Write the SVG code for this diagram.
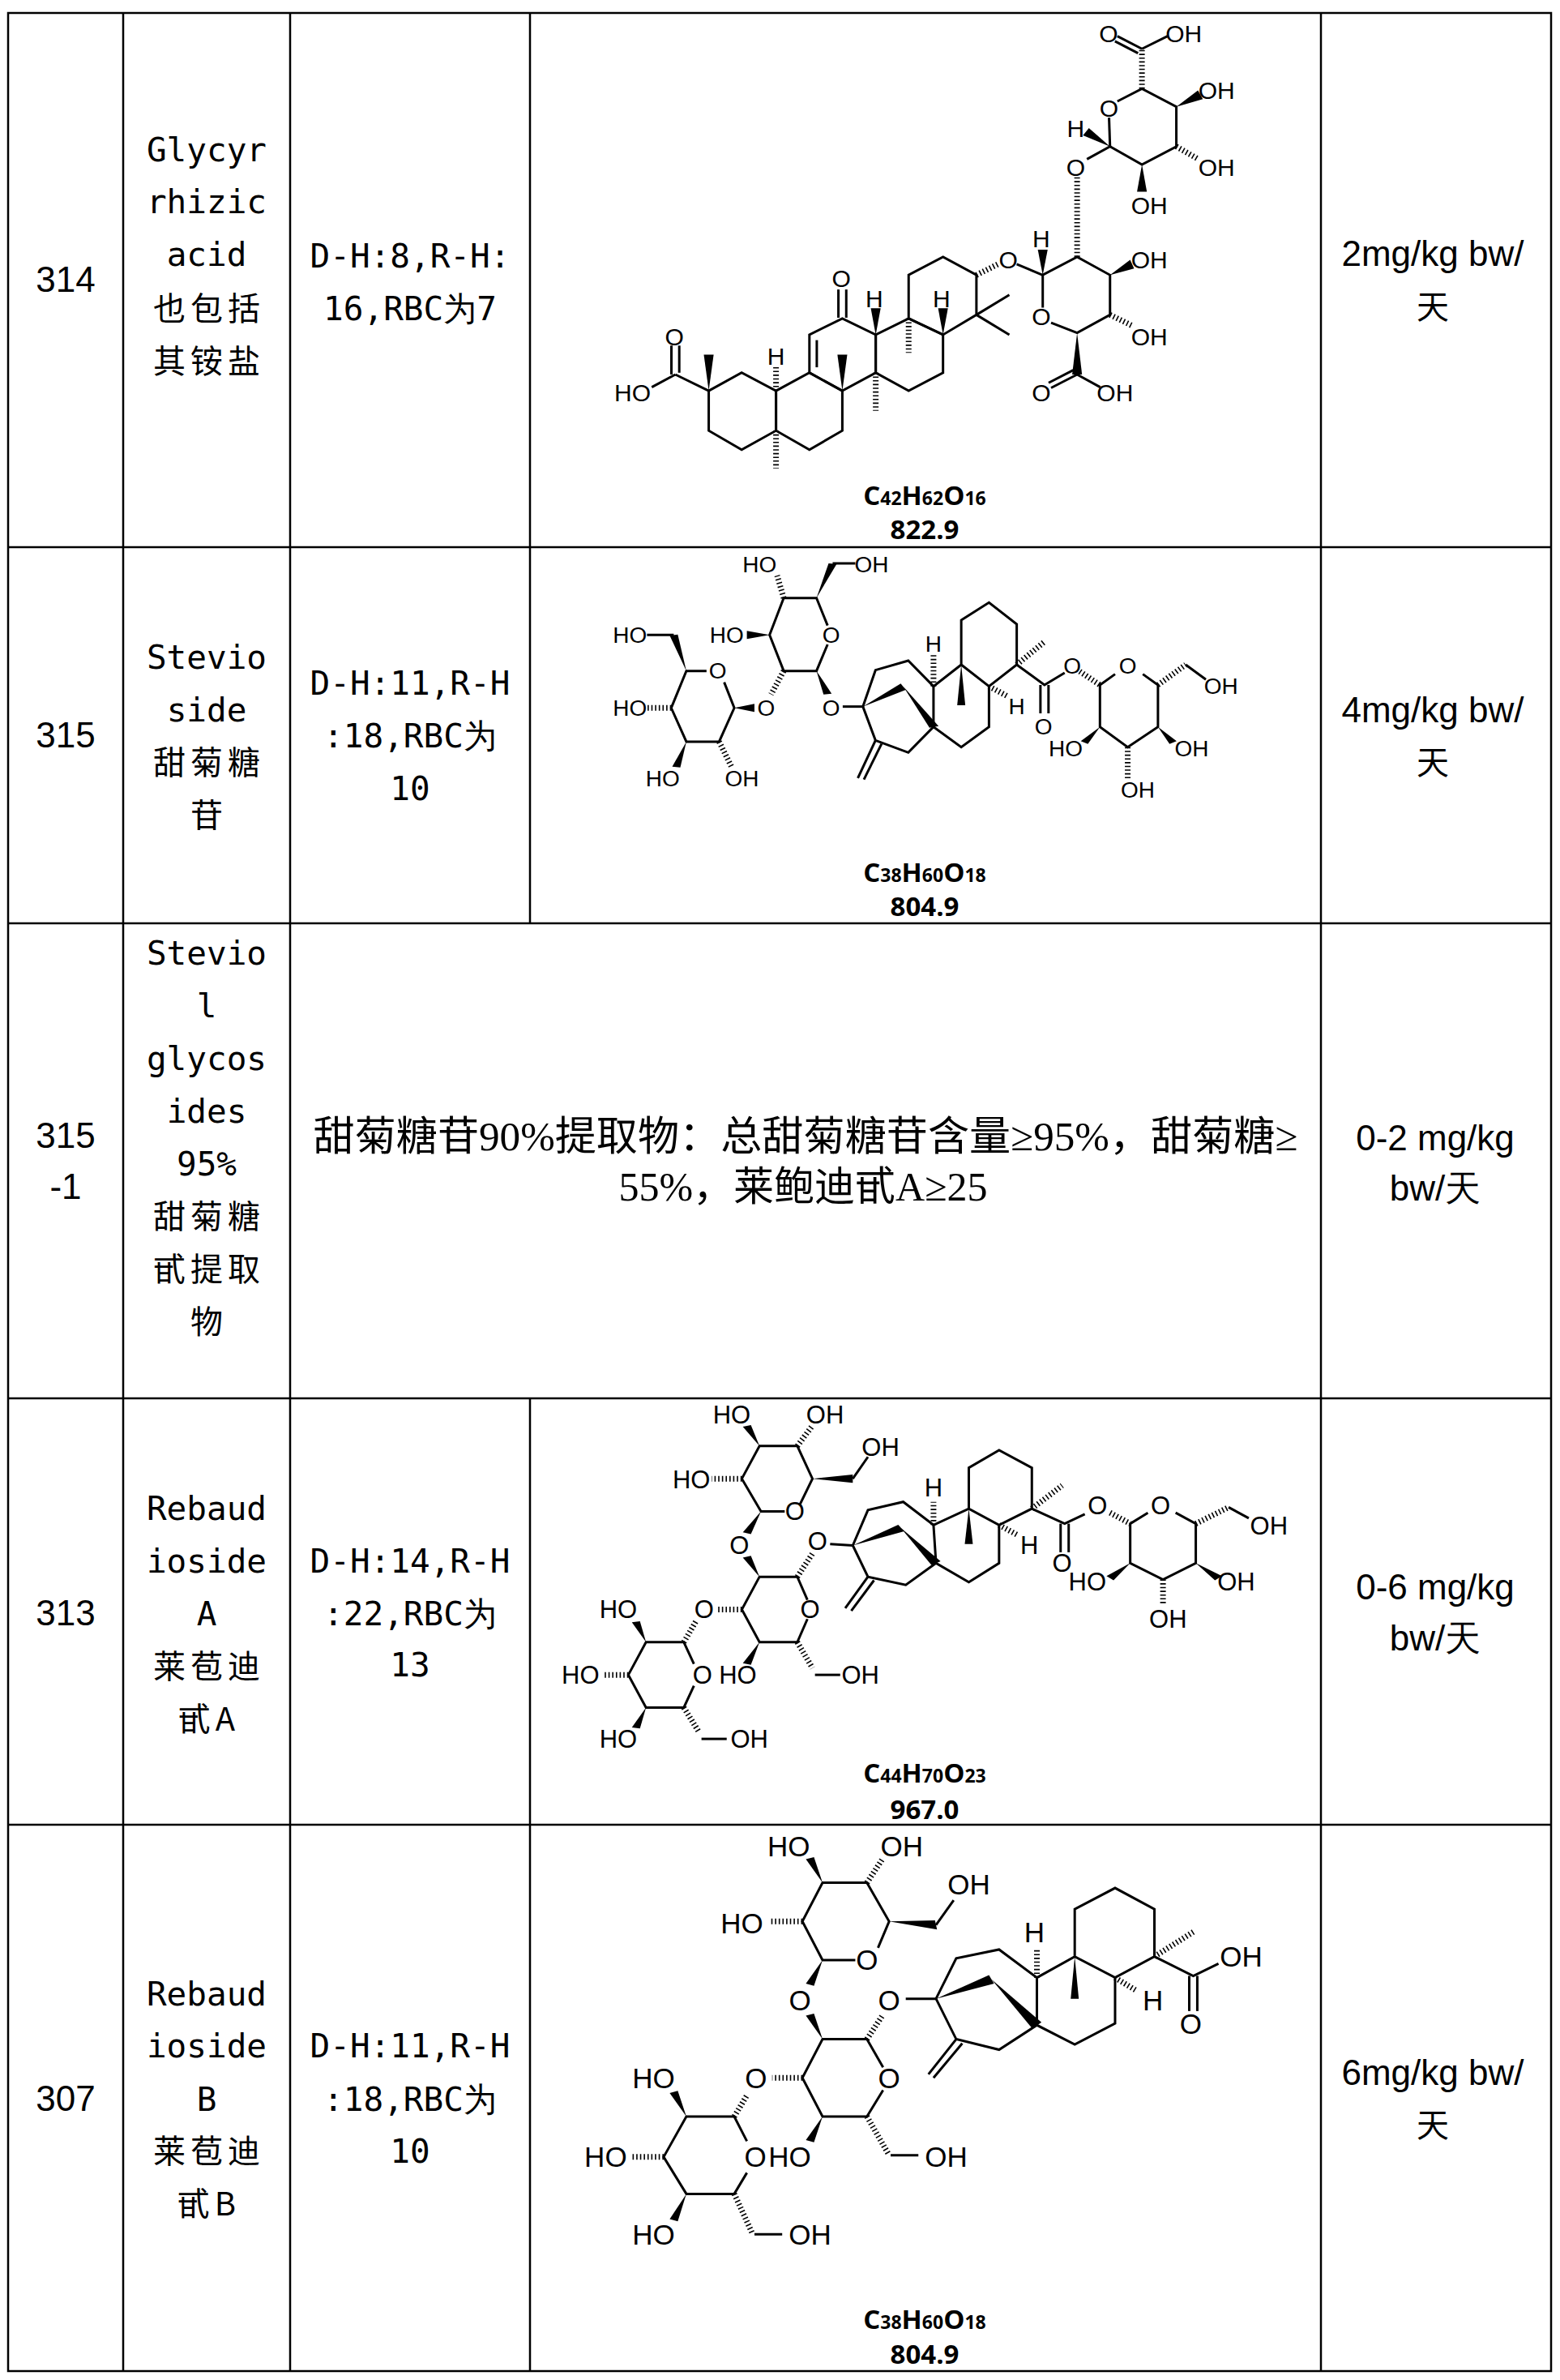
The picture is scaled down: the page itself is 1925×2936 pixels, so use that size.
<svg xmlns="http://www.w3.org/2000/svg" width="1925" height="2936" viewBox="0 0 1925 2936">
<style>
.g{stroke:#000;stroke-width:2.5;fill:none}
.b line,.b polyline,.b polygon.r{fill:none;stroke:#000;stroke-width:3;vector-effect:non-scaling-stroke}
.b polygon{fill:#000;stroke:none}
.b line.h{stroke-width:7;stroke-dasharray:1.6 3}
.b text{font-family:"Liberation Sans",Arial,sans-serif;text-anchor:middle;dominant-baseline:central}
.f{font-family:"Open Sans","Liberation Sans",sans-serif;font-weight:bold;text-anchor:middle;font-size:33px}
.f tspan.s{font-size:23px}
.num{font-family:"Liberation Sans",Arial,sans-serif;font-size:44px;text-anchor:middle}
.mono{font-family:"DejaVu Sans Mono","Liberation Mono",monospace;font-size:41px;text-anchor:middle}
.cjk{font-family:"Noto Sans CJK SC",sans-serif;font-size:40px;text-anchor:middle;letter-spacing:6px}
.ser{font-family:"Liberation Serif","Noto Sans CJK SC",serif;font-size:50px;text-anchor:middle}
</style>
<g id="grid" class="g">
<rect x="10" y="16" width="1904" height="2909"/>
<line x1="152" y1="16" x2="152" y2="2925"/>
<line x1="358" y1="16" x2="358" y2="2925"/>
<line x1="1630" y1="16" x2="1630" y2="2925"/>
<line x1="654" y1="16" x2="654" y2="1139"/>
<line x1="654" y1="1725" x2="654" y2="2925"/>
<line x1="10" y1="675" x2="1914" y2="675"/>
<line x1="10" y1="1139" x2="1914" y2="1139"/>
<line x1="10" y1="1725" x2="1914" y2="1725"/>
<line x1="10" y1="2251" x2="1914" y2="2251"/>
</g>
<g id="row314">
<text class="num" x="81" y="360">314</text>
<text class="mono" x="255" y="199">Glycyr</text>
<text class="mono" x="255" y="263">rhizic</text>
<text class="mono" x="255" y="328">acid</text>
<text class="cjk" x="258" y="395">也包括</text>
<text class="cjk" x="258" y="460">其铵盐</text>
<text class="mono" x="506" y="330">D-H:8,R-H:</text>
<text class="mono" x="506" y="395">16,RBC为7</text>
<text class="num" x="1768" y="328">2mg/kg bw/</text>
<text class="cjk" x="1771" y="393">天</text>
</g>
<g id="row315">
<text class="num" x="81" y="922">315</text>
<text class="mono" x="255" y="825">Stevio</text>
<text class="mono" x="255" y="890">side</text>
<text class="cjk" x="258" y="955">甜菊糖</text>
<text class="cjk" x="258" y="1020">苷</text>
<text class="mono" x="506" y="857">D-H:11,R-H</text>
<text class="mono" x="506" y="922">:18,RBC为</text>
<text class="mono" x="506" y="987">10</text>
<text class="num" x="1768" y="891">4mg/kg bw/</text>
<text class="cjk" x="1771" y="955">天</text>
</g>
<g id="row315-1">
<text class="num" x="81" y="1416">315</text>
<text class="num" x="81" y="1479">-1</text>
<text class="mono" x="255" y="1190">Stevio</text>
<text class="mono" x="255" y="1255">l</text>
<text class="mono" x="255" y="1320">glycos</text>
<text class="mono" x="255" y="1385">ides</text>
<text class="mono" x="255" y="1450">95%</text>
<text class="cjk" x="258" y="1515">甜菊糖</text>
<text class="cjk" x="258" y="1580">甙提取</text>
<text class="cjk" x="258" y="1645">物</text>
<text class="ser" x="994" y="1419" textLength="1215" lengthAdjust="spacingAndGlyphs">甜菊糖苷90%提取物：总甜菊糖苷含量≥95%，甜菊糖≥</text>
<text class="ser" x="991" y="1481">55%，莱鲍迪甙A≥25</text>
<text class="num" x="1771" y="1419">0-2 mg/kg</text>
<text class="num" x="1771" y="1481">bw/天</text>
</g>
<g id="row313">
<text class="num" x="81" y="2005">313</text>
<text class="mono" x="255" y="1875">Rebaud</text>
<text class="mono" x="255" y="1940">ioside</text>
<text class="mono" x="255" y="2005">A</text>
<text class="cjk" x="258" y="2070">莱苞迪</text>
<text class="cjk" x="258" y="2135">甙A</text>
<text class="mono" x="506" y="1940">D-H:14,R-H</text>
<text class="mono" x="506" y="2005">:22,RBC为</text>
<text class="mono" x="506" y="2068">13</text>
<text class="num" x="1771" y="1973">0-6 mg/kg</text>
<text class="num" x="1771" y="2036">bw/天</text>
</g>
<g id="row307">
<text class="num" x="81" y="2604">307</text>
<text class="mono" x="255" y="2474">Rebaud</text>
<text class="mono" x="255" y="2538">ioside</text>
<text class="mono" x="255" y="2604">B</text>
<text class="cjk" x="258" y="2668">莱苞迪</text>
<text class="cjk" x="258" y="2733">甙B</text>
<text class="mono" x="506" y="2538">D-H:11,R-H</text>
<text class="mono" x="506" y="2604">:18,RBC为</text>
<text class="mono" x="506" y="2668">10</text>
<text class="num" x="1768" y="2572">6mg/kg bw/</text>
<text class="cjk" x="1771" y="2636">天</text>
</g>

<g id="mol314" class="b" transform="translate(700,0) scale(0.6061,0.4464)" style="font-size:30px">
<polygon class="r" points="288,1080 355,1030 425,1080 425,1190 355,1243 288,1190"/>
<polygon class="r" points="425,1080 493,1030 560,1080 560,1190 493,1243 425,1190"/>
<polygon class="r" points="493,1030 493,925 560,880 628,925 628,1030 560,1080"/>
<polygon class="r" points="628,1030 628,925 695,880 765,925 765,1030 695,1080"/>
<polygon class="r" points="695,880 695,760 765,710 833,760 833,870 765,925"/>
<line x1="508" y1="1015" x2="508" y2="940"/>
<line x1="833" y1="870" x2="900" y2="815"/><line x1="833" y1="870" x2="900" y2="925"/>
<line class="h" x1="833" y1="760" x2="880" y2="728"/>
<line x1="552" y1="878" x2="552" y2="800"/><line x1="568" y1="878" x2="568" y2="800"/>
<line x1="288" y1="1080" x2="220" y2="1035"/><line x1="212" y1="1035" x2="212" y2="955"/><line x1="228" y1="1030" x2="228" y2="955"/><line x1="220" y1="1035" x2="172" y2="1070"/>
<polygon points="288,1080 278,980 298,980"/>
<line class="h" x1="425" y1="1080" x2="425" y2="1012"/>
<polygon points="560,1080 550,980 570,980"/>
<line class="h" x1="628" y1="1030" x2="628" y2="1135"/>
<line class="h" x1="425" y1="1190" x2="425" y2="1295"/>
<line class="h" x1="695" y1="880" x2="695" y2="975"/>
<polygon points="628,925 618,852 638,852"/>
<polygon points="765,925 755,852 775,852"/>
<line x1="915" y1="730" x2="968" y2="760"/>
<polyline points="968,850 968,760 1038,710 1105,760 1105,870 1038,920 985,892"/>
<polygon points="968,760 958,690 978,690"/>
<polygon points="1105,760 1146,718 1154,742"/>
<line class="h" x1="1105" y1="870" x2="1150" y2="900"/>
<polygon points="1038,920 1028,1035 1048,1035"/>
<line x1="1038" y1="1035" x2="985" y2="1072"/><line x1="1030" y1="1023" x2="980" y2="1058"/><line x1="1038" y1="1035" x2="1085" y2="1070"/>
<line class="h" x1="1038" y1="710" x2="1038" y2="485"/>
<polyline points="1058,440 1105,405 1170,455 1240,405 1240,295 1170,245 1120,280"/>
<line x1="1105" y1="405" x2="1103" y2="325"/>
<polygon points="1105,405 1050,374 1062,354"/>
<polygon points="1240,295 1284,250 1294,274"/>
<line class="h" x1="1240" y1="405" x2="1285" y2="440"/>
<polygon points="1170,455 1160,530 1180,530"/>
<line class="h" x1="1170" y1="245" x2="1170" y2="135"/>
<line x1="1170" y1="135" x2="1120" y2="100"/><line x1="1162" y1="147" x2="1115" y2="114"/><line x1="1170" y1="135" x2="1222" y2="100"/>
<text transform="translate(1102,92) scale(1.65,2.24)">O</text>
<text transform="translate(1255,92) scale(1.65,2.24)">OH</text>
<text transform="translate(1322,250) scale(1.65,2.24)">OH</text>
<text transform="translate(1103,300) scale(1.65,2.24)">O</text>
<text transform="translate(1035,355) scale(1.65,2.24)">H</text>
<text transform="translate(1035,462) scale(1.65,2.24)">O</text>
<text transform="translate(1322,462) scale(1.65,2.24)">OH</text>
<text transform="translate(1185,568) scale(1.65,2.24)">OH</text>
<text transform="translate(965,660) scale(1.65,2.24)">H</text>
<text transform="translate(898,718) scale(1.65,2.24)">O</text>
<text transform="translate(1185,718) scale(1.65,2.24)">OH</text>
<text transform="translate(558,770) scale(1.65,2.24)">O</text>
<text transform="translate(625,825) scale(1.65,2.24)">H</text>
<text transform="translate(762,825) scale(1.65,2.24)">H</text>
<text transform="translate(965,875) scale(1.65,2.24)">O</text>
<text transform="translate(1185,930) scale(1.65,2.24)">OH</text>
<text transform="translate(218,930) scale(1.65,2.24)">O</text>
<text transform="translate(425,985) scale(1.65,2.24)">H</text>
<text transform="translate(133,1085) scale(1.65,2.24)">HO</text>
<text transform="translate(965,1085) scale(1.65,2.24)">O</text>
<text transform="translate(1115,1085) scale(1.65,2.24)">OH</text>
</g>
<text class="f" x="1141" y="623">C<tspan class="s">42</tspan>H<tspan class="s">62</tspan>O<tspan class="s">16</tspan></text>
<text class="f" x="1141" y="665">822.9</text>

<g id="mol315" class="b" transform="translate(654,675) scale(0.6224,0.3333)" style="font-size:28px">
<polyline points="590,290 568,188 503,188 475,325 503,458 568,458 590,360"/>
<line class="h" x1="503" y1="188" x2="490" y2="105"/>
<polygon points="568,188 592,60 608,62"/><line x1="600" y1="60" x2="645" y2="60"/>
<polygon points="475,325 430,310 430,340"/>
<polygon points="568,458 582,545 598,542"/>
<line class="h" x1="503" y1="458" x2="478" y2="545"/>
<polyline points="350,458 310,458 280,595 310,720 375,720 405,595 385,500"/>
<polygon points="310,458 277,327 293,323"/><line x1="285" y1="325" x2="232" y2="325"/>
<line class="h" x1="280" y1="595" x2="232" y2="595"/>
<polygon points="405,595 445,580 445,610"/>
<polygon points="310,720 282,812 298,815"/>
<line class="h" x1="375" y1="720" x2="400" y2="815"/>
<line x1="620" y1="590" x2="660" y2="590"/>
<polyline points="660,590 685,455 750,420 800,515 855,435 910,515 965,435 965,285 910,205 855,270 855,435"/>
<polyline points="910,515 910,665 855,740 800,665 800,515"/>
<polyline points="800,665 750,760 685,715 660,590"/>
<line x1="685" y1="715" x2="650" y2="855"/><line x1="697" y1="728" x2="662" y2="860"/>
<polygon points="660,590 735,505 745,528"/>
<polygon points="740,515 792,668 810,662"/>
<polygon points="855,435 847,585 863,585"/>
<line class="h" x1="800" y1="515" x2="800" y2="400"/>
<line class="h" x1="910" y1="515" x2="945" y2="550"/>
<line class="h" x1="965" y1="435" x2="1020" y2="350"/>
<polyline points="965,435 1020,510 1060,465"/>
<line x1="1012" y1="510" x2="1012" y2="615"/><line x1="1028" y1="510" x2="1028" y2="615"/>
<line class="h" x1="1090" y1="460" x2="1130" y2="510"/>
<polyline points="1160,470 1130,510 1130,665 1185,740 1245,665 1245,510 1215,470"/>
<line class="h" x1="1245" y1="510" x2="1300" y2="435"/><line x1="1300" y1="435" x2="1340" y2="490"/>
<polygon points="1130,665 1092,718 1106,728"/>
<polygon points="1245,665 1268,728 1282,718"/>
<line class="h" x1="1185" y1="740" x2="1185" y2="855"/>
<text transform="translate(455,65) scale(1.6066,3)">HO</text>
<text transform="translate(677,65) scale(1.6066,3)">OH</text>
<text transform="translate(198,325) scale(1.6066,3)">HO</text>
<text transform="translate(390,325) scale(1.6066,3)">HO</text>
<text transform="translate(597,325) scale(1.6066,3)">O</text>
<text transform="translate(372,458) scale(1.6066,3)">O</text>
<text transform="translate(198,595) scale(1.6066,3)">HO</text>
<text transform="translate(468,595) scale(1.6066,3)">O</text>
<text transform="translate(597,595) scale(1.6066,3)">O</text>
<text transform="translate(263,858) scale(1.6066,3)">HO</text>
<text transform="translate(420,858) scale(1.6066,3)">OH</text>
<text transform="translate(800,360) scale(1.6066,3)">H</text>
<text transform="translate(965,590) scale(1.6066,3)">H</text>
<text transform="translate(1075,440) scale(1.6066,3)">O</text>
<text transform="translate(1185,440) scale(1.6066,3)">O</text>
<text transform="translate(1370,515) scale(1.6066,3)">OH</text>
<text transform="translate(1018,665) scale(1.6066,3)">O</text>
<text transform="translate(1062,745) scale(1.6066,3)">HO</text>
<text transform="translate(1312,745) scale(1.6066,3)">OH</text>
<text transform="translate(1205,900) scale(1.6066,3)">OH</text>
</g>
<text class="f" x="1141" y="1088">C<tspan class="s">38</tspan>H<tspan class="s">60</tspan>O<tspan class="s">18</tspan></text>
<text class="f" x="1141" y="1130">804.9</text>

<g id="mol313" class="b" transform="translate(654,1725) scale(0.6224,0.3361)" style="font-size:31px">
<polyline points="535,390 560,295 530,175 455,175 420,295 458,415 505,415"/>
<polygon points="455,175 422,104 438,98"/>
<line class="h" x1="530" y1="175" x2="560" y2="100"/>
<polygon points="560,295 640,280 640,310"/><line x1="640" y1="295" x2="670" y2="215"/>
<line class="h" x1="420" y1="295" x2="360" y2="295"/>
<polygon points="458,415 422,492 438,498"/>
<polyline points="550,740 530,655 455,655 420,775 455,895 530,895 550,810"/>
<polygon points="455,655 422,585 438,578"/>
<line class="h" x1="530" y1="655" x2="560" y2="570"/>
<line class="h" x1="420" y1="775" x2="372" y2="775"/>
<polygon points="455,895 422,972 438,978"/>
<line class="h" x1="530" y1="895" x2="560" y2="990"/><line x1="565" y1="1015" x2="615" y2="1015"/>
<polyline points="325,975 305,895 230,895 195,1015 230,1135 305,1135 325,1055"/>
<line class="h" x1="305" y1="895" x2="330" y2="815"/>
<polygon points="230,895 202,822 218,818"/>
<line class="h" x1="195" y1="1015" x2="145" y2="1015"/>
<polygon points="230,1135 202,1208 218,1212"/>
<line class="h" x1="305" y1="1135" x2="335" y2="1225"/><line x1="340" y1="1250" x2="390" y2="1250"/>
<line x1="595" y1="535" x2="640" y2="540"/>
<polyline points="640,540 670,410 740,380 800,465 870,405 930,465 995,405 995,255 930,190 870,255 870,405"/>
<polyline points="930,465 930,605 870,675 805,605 800,465"/>
<polyline points="805,605 745,685 670,655 640,540"/>
<line x1="670" y1="655" x2="625" y2="770"/><line x1="682" y1="668" x2="637" y2="780"/>
<polygon points="640,540 730,464 742,488"/>
<polygon points="735,475 796,612 814,598"/>
<polygon points="870,405 862,535 878,535"/>
<line class="h" x1="800" y1="465" x2="800" y2="380"/>
<line class="h" x1="930" y1="465" x2="965" y2="500"/>
<line class="h" x1="995" y1="405" x2="1055" y2="320"/>
<polyline points="995,405 1060,460 1100,425"/>
<line x1="1052" y1="460" x2="1052" y2="565"/><line x1="1068" y1="460" x2="1068" y2="565"/>
<line class="h" x1="1150" y1="420" x2="1190" y2="460"/>
<polyline points="1225,420 1190,460 1190,605 1255,665 1320,605 1320,460 1280,420"/>
<line class="h" x1="1320" y1="460" x2="1385" y2="400"/><line x1="1385" y1="400" x2="1425" y2="440"/>
<polygon points="1190,605 1143,652 1157,668"/>
<polygon points="1320,605 1358,668 1372,652"/>
<line class="h" x1="1255" y1="665" x2="1255" y2="760"/>
<text transform="translate(400,60) scale(1.6066,2.975)">HO</text>
<text transform="translate(585,60) scale(1.6066,2.975)">OH</text>
<text transform="translate(695,180) scale(1.6066,2.975)">OH</text>
<text transform="translate(320,300) scale(1.6066,2.975)">HO</text>
<text transform="translate(525,415) scale(1.6066,2.975)">O</text>
<text transform="translate(415,540) scale(1.6066,2.975)">O</text>
<text transform="translate(570,525) scale(1.6066,2.975)">O</text>
<text transform="translate(1125,395) scale(1.6066,2.975)">O</text>
<text transform="translate(1250,395) scale(1.6066,2.975)">O</text>
<text transform="translate(1465,470) scale(1.6066,2.975)">OH</text>
<text transform="translate(800,330) scale(1.6066,2.975)">H</text>
<text transform="translate(990,540) scale(1.6066,2.975)">H</text>
<text transform="translate(1055,605) scale(1.6066,2.975)">O</text>
<text transform="translate(1105,675) scale(1.6066,2.975)">HO</text>
<text transform="translate(1400,675) scale(1.6066,2.975)">OH</text>
<text transform="translate(1265,810) scale(1.6066,2.975)">OH</text>
<text transform="translate(555,775) scale(1.6066,2.975)">O</text>
<text transform="translate(345,775) scale(1.6066,2.975)">O</text>
<text transform="translate(175,775) scale(1.6066,2.975)">HO</text>
<text transform="translate(100,1015) scale(1.6066,2.975)">HO</text>
<text transform="translate(342,1015) scale(1.6066,2.975)">O</text>
<text transform="translate(412,1015) scale(1.6066,2.975)">HO</text>
<text transform="translate(655,1015) scale(1.6066,2.975)">OH</text>
<text transform="translate(175,1250) scale(1.6066,2.975)">HO</text>
<text transform="translate(435,1250) scale(1.6066,2.975)">OH</text>
</g>
<text class="f" x="1141" y="2199">C<tspan class="s">44</tspan>H<tspan class="s">70</tspan>O<tspan class="s">23</tspan></text>
<text class="f" x="1141" y="2244">967.0</text>

<g id="mol307" class="b" transform="translate(654,2251) scale(0.6224,0.4337)" style="font-size:35px">
<polyline points="690,350 712,275 668,165 580,165 540,275 580,385 645,385"/>
<polygon points="580,165 547,98 563,92"/>
<line class="h" x1="668" y1="165" x2="700" y2="95"/>
<polygon points="712,275 803,272 807,298"/><line x1="805" y1="285" x2="840" y2="215"/>
<line class="h" x1="540" y1="275" x2="475" y2="275"/>
<polygon points="580,385 547,452 563,458"/>
<polyline points="700,690 668,610 580,610 540,720 580,830 668,830 700,755"/>
<polygon points="580,610 547,543 563,537"/>
<line class="h" x1="668" y1="610" x2="700" y2="540"/>
<line class="h" x1="540" y1="720" x2="480" y2="720"/>
<polygon points="580,830 547,897 563,903"/>
<line class="h" x1="668" y1="830" x2="710" y2="935"/><line x1="715" y1="940" x2="770" y2="940"/>
<polyline points="430,900 405,830 310,830 265,945 310,1050 405,1050 430,990"/>
<line class="h" x1="405" y1="830" x2="430" y2="770"/>
<polygon points="310,830 277,763 293,757"/>
<line class="h" x1="265" y1="945" x2="200" y2="945"/>
<polygon points="310,1050 277,1122 293,1128"/>
<line class="h" x1="405" y1="1050" x2="440" y2="1160"/><line x1="445" y1="1165" x2="500" y2="1165"/>
<line x1="745" y1="495" x2="805" y2="495"/>
<polyline points="805,495 845,380 930,355 1005,435 1080,375 1160,435 1238,375 1238,240 1160,180 1080,240 1080,375"/>
<polyline points="1160,435 1160,565 1080,625 1005,570 1005,435"/>
<polyline points="1005,570 930,640 845,610 805,495"/>
<line x1="845" y1="610" x2="790" y2="710"/><line x1="857" y1="622" x2="800" y2="720"/>
<polygon points="805,495 910,428 920,452"/>
<polygon points="915,440 996,580 1014,562"/>
<polygon points="1080,375 1072,495 1088,495"/>
<line class="h" x1="1005" y1="435" x2="1005" y2="355"/>
<line class="h" x1="1160" y1="435" x2="1200" y2="470"/>
<line class="h" x1="1238" y1="375" x2="1315" y2="305"/>
<polyline points="1238,375 1315,430 1365,395"/>
<line x1="1307" y1="430" x2="1307" y2="530"/><line x1="1323" y1="430" x2="1323" y2="530"/>
<text transform="translate(513,60) scale(1.6066,2.306)">HO</text>
<text transform="translate(737,60) scale(1.6066,2.306)">OH</text>
<text transform="translate(870,170) scale(1.6066,2.306)">OH</text>
<text transform="translate(420,280) scale(1.6066,2.306)">HO</text>
<text transform="translate(668,385) scale(1.6066,2.306)">O</text>
<text transform="translate(535,500) scale(1.6066,2.306)">O</text>
<text transform="translate(712,500) scale(1.6066,2.306)">O</text>
<text transform="translate(245,720) scale(1.6066,2.306)">HO</text>
<text transform="translate(448,720) scale(1.6066,2.306)">O</text>
<text transform="translate(712,720) scale(1.6066,2.306)">O</text>
<text transform="translate(1000,305) scale(1.6066,2.306)">H</text>
<text transform="translate(1235,500) scale(1.6066,2.306)">H</text>
<text transform="translate(1410,375) scale(1.6066,2.306)">OH</text>
<text transform="translate(1310,565) scale(1.6066,2.306)">O</text>
<text transform="translate(150,945) scale(1.6066,2.306)">HO</text>
<text transform="translate(447,945) scale(1.6066,2.306)">O</text>
<text transform="translate(515,945) scale(1.6066,2.306)">HO</text>
<text transform="translate(825,945) scale(1.6066,2.306)">OH</text>
<text transform="translate(245,1165) scale(1.6066,2.306)">HO</text>
<text transform="translate(555,1165) scale(1.6066,2.306)">OH</text>
</g>
<text class="f" x="1141" y="2873">C<tspan class="s">38</tspan>H<tspan class="s">60</tspan>O<tspan class="s">18</tspan></text>
<text class="f" x="1141" y="2916">804.9</text>
</svg>
